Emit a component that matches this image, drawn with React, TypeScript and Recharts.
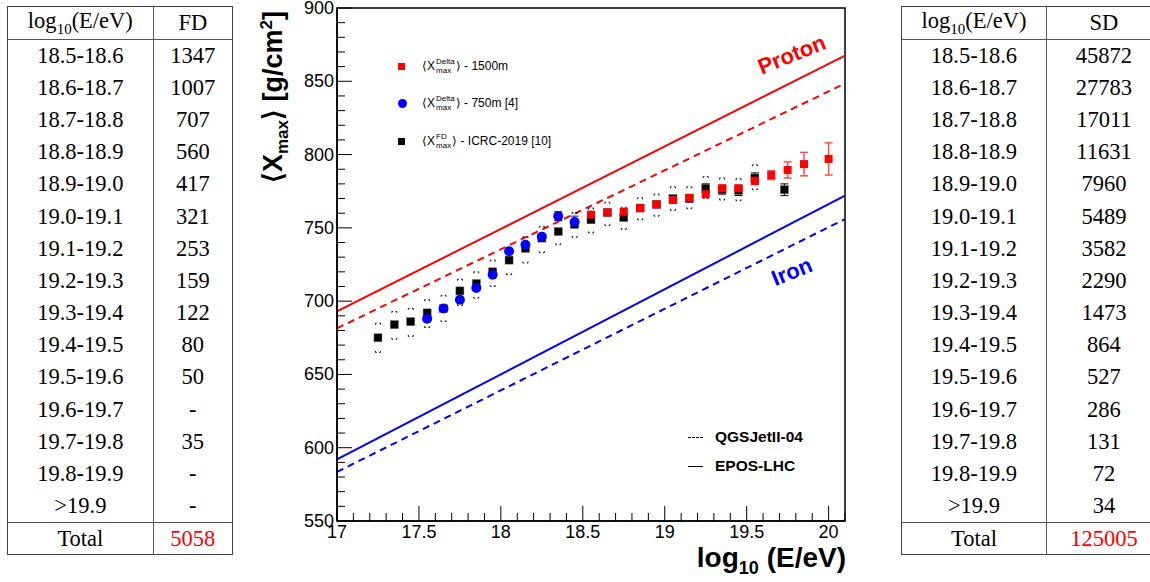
import React from 'react';
import { ComposedChart, Scatter, Line, XAxis, YAxis, ErrorBar, ReferenceArea } from 'recharts';

// table contents
const energyBins = ['18.5-18.6', '18.6-18.7', '18.7-18.8', '18.8-18.9', '18.9-19.0', '19.0-19.1', '19.1-19.2', '19.2-19.3', '19.3-19.4', '19.4-19.5', '19.5-19.6', '19.6-19.7', '19.7-19.8', '19.8-19.9', '>19.9'];
const fdCounts = ['1347', '1007', '707', '560', '417', '321', '253', '159', '122', '80', '50', '-', '35', '-', '-'];
const sdCounts = ['45872', '27783', '17011', '11631', '7960', '5489', '3582', '2290', '1473', '864', '527', '286', '131', '72', '34'];
const fdTotal = '5058';
const sdTotal = '125005';

// <Xmax> Delta method, SD 1500 m
const delta1500E = [18.55, 18.65, 18.75, 18.85, 18.95, 19.05, 19.15, 19.25, 19.35, 19.45, 19.55, 19.65, 19.75, 19.85, 20.0];
const delta1500X = [759, 760.5, 761, 763.5, 766, 769, 770.5, 773, 777, 777, 782, 786, 789.5, 793.5, 797];
const delta1500Err = [1.5, 1.5, 1.5, 1.5, 1.5, 1.5, 1.5, 1.5, 2, 2, 2.5, 3, 5.5, 8, 11];

// <Xmax> Delta method, SD 750 m
const delta750E = [17.55, 17.65, 17.75, 17.85, 17.95, 18.05, 18.15, 18.25, 18.35, 18.45];
const delta750X = [688, 695, 701, 709, 718, 734, 738.5, 744, 758, 754];
const delta750Err = [1, 1, 1, 1, 1, 1, 1, 1.5, 3, 4];

// <Xmax> FD, ICRC-2019
const fdE = [17.25, 17.35, 17.45, 17.55, 17.65, 17.75, 17.85, 17.95, 18.05, 18.15, 18.25, 18.35, 18.45, 18.55, 18.65, 18.75, 18.85, 18.95, 19.05, 19.15, 19.25, 19.35, 19.45, 19.55, 19.73];
const fdX = [675, 684, 686, 692, 695, 707, 712, 720, 728, 736, 743, 747.5, 752.5, 755.5, 760.5, 757, 763.5, 766, 770, 770, 777, 776, 775.5, 784, 776];
const fdStat = [1, 1, 1, 1, 1, 1, 1, 1, 1, 1, 1, 1, 1.5, 1.5, 1.5, 1.5, 2, 2, 2, 2.5, 3, 3, 3.5, 3.5, 4];
const fdSysUp = [10, 9, 9, 9, 9, 8, 8, 8, 8, 8, 8, 8, 8, 8, 7, 7, 7, 7, 8, 8, 8, 8, 8, 9, 0];
const fdSysDown = [10, 10, 10, 10, 9, 10, 10, 10, 10, 10, 10, 9, 9, 9, 9, 8, 8, 8, 8, 7, 7, 7, 7, 8, 0];

// model predictions (end points)
const lineE = [17, 20.1];
const protonEpos = [693, 867.5];
const protonQgs = [681.5, 848.5];
const ironEpos = [592, 772];
const ironQgs = [583.5, 756];

const xMajorTicks = [17, 17.5, 18, 18.5, 19, 19.5, 20];
const xMinorTicks = Array.from({ length: 32 }, (_, i) => Math.round((17 + i * 0.1) * 10) / 10);
const yTicks = Array.from({ length: 36 }, (_, i) => 550 + i * 10);

const sans = '"Liberation Sans", Arial, Helvetica, sans-serif';
const serif = '"Liberation Serif", "Times New Roman", serif';

const pts = (e: number[], x: number[], err?: number[]) => e.map((v, i) => ({ x: v, y: x[i], err: err ? err[i] : 0 }));

const delta1500Data = pts(delta1500E, delta1500X, delta1500Err);
const delta750Data = pts(delta750E, delta750X, delta750Err);
const fdData = pts(fdE, fdX, fdStat);
const sysHi = fdE.map((v, i) => ({ x: v, y: fdX[i] + fdSysUp[i] })).filter((d, i) => fdSysUp[i] > 0);
const sysLo = fdE.map((v, i) => ({ x: v, y: fdX[i] - fdSysDown[i] })).filter((d, i) => fdSysDown[i] > 0);
const mkLine = (vals: number[]) => lineE.map((v, i) => ({ x: v, y: vals[i] }));

const YTick = (props: any) => {
  const { x, y, payload } = props;
  const major = payload.value % 50 === 0;
  return (
    <g>
      <line x1={x} x2={x + (major ? 15 : 8)} y1={y} y2={y} stroke="#000" />
      {major && (
        <text x={x - 3} y={y + 6} textAnchor="end" fontSize={18} fontFamily={sans} fill="#000">
          {payload.value}
        </text>
      )}
    </g>
  );
};

const XTick = (props: any) => {
  const { x, y, payload } = props;
  const major = xMajorTicks.includes(payload.value);
  return (
    <g>
      <line x1={x} x2={x} y1={y} y2={y - (major ? 15 : 8)} stroke="#000" />
      {major && (
        <text x={x} y={y + 17} textAnchor="middle" fontSize={18} fontFamily={sans} fill="#000">
          {payload.value}
        </text>
      )}
    </g>
  );
};

const RedSquare = (p: any) => <rect x={p.cx - 4} y={p.cy - 4} width={8} height={8} fill="#ff0000" />;
const BlackSquare = (p: any) => <rect x={p.cx - 4} y={p.cy - 4} width={8} height={8} fill="#000" stroke="#666" strokeWidth={0.5} />;
const BlueDot = (p: any) => <circle cx={p.cx} cy={p.cy} r={5} fill="#0000ff" />;
const BracketTop = (p: any) => (
  <path d={`M${p.cx - 2.5},${p.cy + 1.5} V${p.cy} H${p.cx - 1.2} M${p.cx + 1.2},${p.cy} H${p.cx + 2.5} V${p.cy + 1.5}`} stroke="#000" fill="none" strokeWidth={0.9} />
);
const BracketBottom = (p: any) => (
  <path d={`M${p.cx - 2.5},${p.cy - 1.5} V${p.cy} H${p.cx - 1.2} M${p.cx + 1.2},${p.cy} H${p.cx + 2.5} V${p.cy - 1.5}`} stroke="#000" fill="none" strokeWidth={0.9} />
);

const ROW = 32.2;

const CountTable = ({ left, col1, col2, label, counts, total }: any) => {
  const cell = (w: number, h: number, content: any, color = '#000', borderRight = false) => (
    <div
      style={{
        width: w, height: h, display: 'flex', alignItems: 'center', justifyContent: 'center',
        color, borderRight: borderRight ? '1.5px solid #555' : 'none', boxSizing: 'border-box',
      }}
    >
      {content}
    </div>
  );
  return (
    <div
      style={{
        position: 'absolute', left, top: 6, width: col1 + col2, border: '1.5px solid #444',
        fontFamily: serif, fontSize: 22.5, boxSizing: 'border-box',
      }}
    >
      <div style={{ display: 'flex', borderBottom: '1.5px solid #555' }}>
        {cell(col1, 31.5, <span>log<sub style={{ fontSize: 15 }}>10</sub>(E/eV)</span>, '#000', true)}
        {cell(col2, 31.5, label)}
      </div>
      {energyBins.map((b, i) => (
        <div key={b} style={{ display: 'flex' }}>
          {cell(col1, ROW, b, '#000', true)}
          {cell(col2, ROW, counts[i])}
        </div>
      ))}
      <div style={{ display: 'flex', borderTop: '1.5px solid #555' }}>
        {cell(col1, 31, 'Total', '#000', true)}
        {cell(col2, 31, total, '#ff0000')}
      </div>
    </div>
  );
};

const Stack = ({ top, bottom }: { top: string; bottom: string }) => (
  <span style={{ display: 'inline-flex', flexDirection: 'column', fontSize: 8, lineHeight: '9px', verticalAlign: 'middle', margin: '0 1px' }}>
    <span>{top}</span>
    <span>{bottom}</span>
  </span>
);

const legendRow = (top: number, marker: any, sup: string, rest: string) => (
  <div style={{ position: 'absolute', left: 398, top: top - 10, height: 20, display: 'flex', alignItems: 'center', fontFamily: sans, fontSize: 12 }}>
    <div style={{ width: 24 }}>{marker}</div>
    <span>⟨X</span>
    <Stack top={sup} bottom="max" />
    <span>⟩ - {rest}</span>
  </div>
);

export default function App() {
  return (
    <div style={{ position: 'absolute', left: 0, top: 0, width: 1150, height: 582, background: '#fff', overflow: 'hidden' }}>
      <CountTable left={7} col1={147} col2={79} label="FD" counts={fdCounts} total={fdTotal} />
      <CountTable left={901} col1={146} col2={115} label="SD" counts={sdCounts} total={sdTotal} />

      <div style={{ position: 'absolute', left: 250, top: 0 }}>
        <ComposedChart width={620} height={582} margin={{ top: 8, right: 25, bottom: 0, left: 0 }}>
          <ReferenceArea x1={17} x2={20.1} y1={550} y2={900} fill="none" stroke="#000" strokeWidth={1.5} />
          <XAxis
            type="number" dataKey="x" domain={[17, 20.1]} allowDataOverflow ticks={xMinorTicks} interval={0}
            tick={XTick} tickLine={false} tickSize={0} tickMargin={0} height={61} stroke="#000" strokeWidth={1.5}
          />
          <YAxis
            type="number" dataKey="y" domain={[550, 900]} allowDataOverflow ticks={yTicks} interval={0}
            tick={YTick} tickLine={false} tickSize={0} tickMargin={0} width={87} stroke="#000" strokeWidth={1.5}
          />
          <Line data={mkLine(protonEpos)} dataKey="y" stroke="#ff0000" strokeWidth={2} dot={false} isAnimationActive={false} />
          <Line data={mkLine(protonQgs)} dataKey="y" stroke="#ff0000" strokeWidth={2} strokeDasharray="7 5" dot={false} isAnimationActive={false} />
          <Line data={mkLine(ironEpos)} dataKey="y" stroke="#0000ff" strokeWidth={2} dot={false} isAnimationActive={false} />
          <Line data={mkLine(ironQgs)} dataKey="y" stroke="#0000ff" strokeWidth={2} strokeDasharray="7 5" dot={false} isAnimationActive={false} />
          <Scatter data={sysHi} shape={BracketTop} isAnimationActive={false} />
          <Scatter data={sysLo} shape={BracketBottom} isAnimationActive={false} />
          <Scatter data={fdData} shape={BlackSquare} isAnimationActive={false}>
            <ErrorBar dataKey="err" direction="y" width={4} stroke="#000" strokeWidth={1} isAnimationActive={false} />
          </Scatter>
          <Scatter data={delta750Data} shape={BlueDot} isAnimationActive={false}>
            <ErrorBar dataKey="err" direction="y" width={4} stroke="#0000ff" strokeWidth={1} isAnimationActive={false} />
          </Scatter>
          <Scatter data={delta1500Data} shape={RedSquare} isAnimationActive={false}>
            <ErrorBar dataKey="err" direction="y" width={4} stroke="#ff5050" strokeWidth={1.5} isAnimationActive={false} />
          </Scatter>
        </ComposedChart>
      </div>

      {/* y-axis title */}
      <div
        style={{
          position: 'absolute', left: 275, top: 97, transform: 'translate(-50%, -50%) rotate(-90deg)',
          whiteSpace: 'nowrap', fontFamily: sans, fontWeight: 'bold', fontSize: 27,
        }}
      >
        ⟨X<sub style={{ fontSize: 17 }}>max</sub>⟩ [g/cm<sup style={{ fontSize: 17 }}>2</sup>]
      </div>

      {/* x-axis title */}
      <div style={{ position: 'absolute', right: 1150 - 846, top: 542, whiteSpace: 'nowrap', fontFamily: sans, fontWeight: 'bold', fontSize: 28 }}>
        log<sub style={{ fontSize: 18 }}>10</sub> (E/eV)
      </div>

      {legendRow(66, <div style={{ width: 7, height: 7, background: '#ff0000' }} />, 'Delta', '1500m')}
      {legendRow(103, <div style={{ width: 9, height: 9, borderRadius: '50%', background: '#0000ff' }} />, 'Delta', '750m [4]')}
      {legendRow(141, <div style={{ width: 7, height: 7, background: '#000' }} />, 'FD', 'ICRC-2019 [10]')}

      <div style={{ position: 'absolute', left: 688, top: 428, display: 'flex', alignItems: 'center', fontFamily: sans, fontWeight: 'bold', fontSize: 15.5 }}>
        <div style={{ width: 15, borderTop: '1.5px dashed #000', marginRight: 12 }} />
        QGSJetII-04
      </div>
      <div style={{ position: 'absolute', left: 688, top: 457, display: 'flex', alignItems: 'center', fontFamily: sans, fontWeight: 'bold', fontSize: 15.5 }}>
        <div style={{ width: 15, borderTop: '1.5px solid #000', marginRight: 12 }} />
        EPOS-LHC
      </div>

      <div style={{ position: 'absolute', left: 792, top: 55, transform: 'translate(-50%, -50%) rotate(-22deg)', color: '#ff0000', fontFamily: sans, fontWeight: 'bold', fontSize: 22 }}>
        Proton
      </div>
      <div style={{ position: 'absolute', left: 792, top: 272, transform: 'translate(-50%, -50%) rotate(-22deg)', color: '#0000ff', fontFamily: sans, fontWeight: 'bold', fontSize: 22 }}>
        Iron
      </div>
    </div>
  );
}
